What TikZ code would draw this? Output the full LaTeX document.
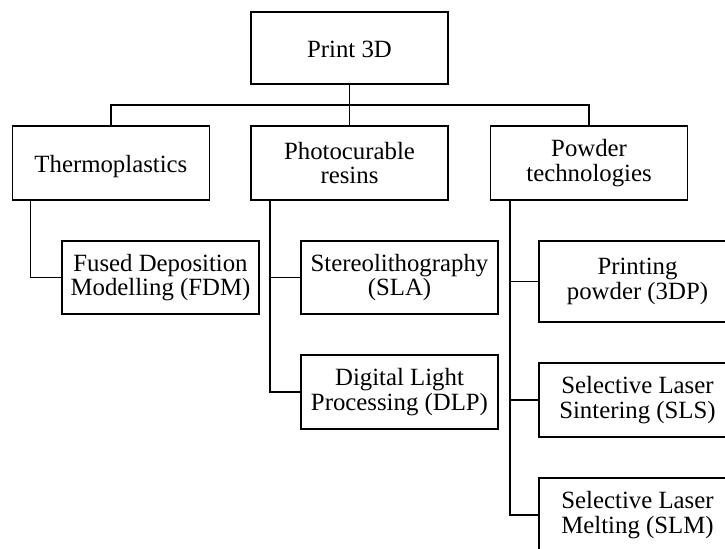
\documentclass[tikz,border=0pt]{standalone}
\usepackage{fontspec}
\setmainfont{Liberation Serif}
\usepackage{tikz}
\usetikzlibrary{positioning}

\begin{document}
\begin{tikzpicture}[
  x=0.5pt, y=-0.5pt,
  every node/.style={font=\fontsize{12.4}{12.4}\selectfont},
  box/.style={draw, line width=0.8pt, align=center, minimum width=98.5pt, minimum height=37pt, inner sep=2pt},
  onebox/.style={box, text height=11pt, text depth=1pt},
  link/.style={line width=0.8pt}
]
\useasboundingbox (0,0) rectangle (725,549);
% top and the three families
\node[onebox, minimum height=36pt] (print) at (349.5,48) {Print 3D};
\node[box] (photo) at (349.5,163) {Photocurable\\resins};
\node[onebox, left=20pt of photo] (thermo) {Thermoplastics};
\node[box, right=20.5pt of photo] (powder) {Powder\\technologies};
% processes
\node[box, minimum height=36.5pt] (fdm) at (160.5,277.5) {Fused Deposition\\Modelling (FDM)};
\node[box, minimum height=36.5pt] (sla) at (399.5,277.5) {Stereolithography\\(SLA)};
\node[box] (dlp) at (399.5,392) {Digital Light\\Processing (DLP)};
\node[box, minimum height=40.5pt] (tdp) at (637.5,281.5) {Printing\\powder (3DP)};
\node[box] (sls) at (637.5,400) {Selective Laser\\Sintering (SLS)};
\node[box] (slm) at (637.5,515) {Selective Laser\\Melting (SLM)};
\coordinate (bus) at (349.5,105);
\draw[link] (print) -- (photo);
\draw[link] (thermo.north) |- (bus) -| (powder.north);
\draw[link] ([xshift=9.5pt]thermo.south west) |- (fdm.west);
\draw[link] ([xshift=10pt]photo.south west) |- (sla.west);
\draw[link] ([xshift=10pt]photo.south west) |- (dlp.west);
\draw[link] ([xshift=10pt]powder.south west) |- (tdp.west);
\draw[link] ([xshift=10pt]powder.south west) |- (sls.west);
\draw[link] ([xshift=10pt]powder.south west) |- (slm.west);
\end{tikzpicture}
\end{document}
